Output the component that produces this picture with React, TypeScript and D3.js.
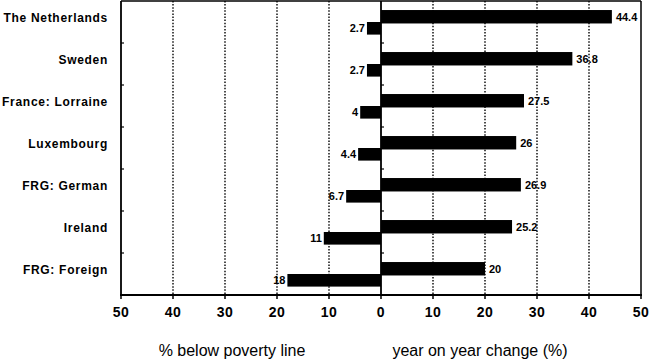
import React from "react";
import * as d3 from "d3";

const categories = ["The Netherlands", "Sweden", "France: Lorraine", "Luxembourg", "FRG: German", "Ireland", "FRG: Foreign"];
const yearChange = [44.4, 36.8, 27.5, 26, 26.9, 25.2, 20];
const belowPoverty = [2.7, 2.7, 4, 4.4, 6.7, 11, 18];
const tickValues = [-50, -40, -30, -20, -10, 0, 10, 20, 30, 40, 50];
const leftTitle = "% below poverty line";
const rightTitle = "year on year change (%)";

const W = 649, H = 359;
const FONT = "Liberation Sans, Arial, sans-serif";

export default function App() {
  const x = d3.scaleLinear().domain([-50, 50]).range([121, 641]);
  const y = d3.scaleBand<string>().domain(categories).range([1, 295]).padding(0);
  const bw = y.bandwidth();
  const top = 1, bottom = 295;
  const grid = tickValues.filter((t) => t !== 0 && Math.abs(t) !== 50);
  const bandEdges = categories.map((c) => y(c)!).slice(1);

  return (
    <svg width={W} height={H} style={{ position: "absolute", left: 0, top: 0, background: "#fff" }} fontFamily={FONT}>
      <rect x={0} y={0} width={W} height={H} fill="#fff" />
      {grid.map((t) => (
        <line key={t} x1={x(t)} x2={x(t)} y1={top} y2={bottom} stroke="#000" strokeWidth={1.4} strokeDasharray="1.5 1.6" />
      ))}
      {categories.map((c, i) => (
        <g key={c}>
          <rect x={x(0)} y={y(c)! + bw * 0.215} width={x(yearChange[i]) - x(0)} height={bw * 0.32} fill="#000" />
          <rect x={x(-belowPoverty[i])} y={y(c)! + bw * 0.5} width={x(0) - x(-belowPoverty[i])} height={bw * 0.3} fill="#000" />
          <text x={x(yearChange[i]) + 4} y={y(c)! + bw * 0.375} dy="0.35em" fontSize={11} fontWeight="bold" fill="#000">
            {String(yearChange[i])}
          </text>
          <text x={x(-belowPoverty[i]) - 2} y={y(c)! + bw * 0.65} dy="0.35em" fontSize={11} fontWeight="bold" textAnchor="end" fill="#000">
            {String(belowPoverty[i])}
          </text>
          <text x={108} y={y(c)! + bw * 0.4} dy="0.35em" fontSize={12} letterSpacing={0.7} fontWeight="bold" textAnchor="end" fill="#000">
            {c}
          </text>
        </g>
      ))}
      <line x1={x(-50)} x2={x(50)} y1={top} y2={top} stroke="#000" strokeWidth={1.5} />
      <line x1={x(50)} x2={x(50)} y1={top} y2={bottom} stroke="#000" strokeWidth={1.5} />
      <line x1={x(-50)} x2={x(-50)} y1={top} y2={bottom} stroke="#000" strokeWidth={1.8} />
      <line x1={x(0)} x2={x(0)} y1={top} y2={bottom} stroke="#000" strokeWidth={1.8} />
      <line x1={x(-50) - 1} x2={x(50) + 1} y1={bottom} y2={bottom} stroke="#000" strokeWidth={1.8} />
      {bandEdges.map((e, i) => (
        <g key={i}>
          <line x1={x(-50)} x2={x(-50) + 3} y1={e} y2={e} stroke="#000" strokeWidth={1.2} />
          <line x1={x(0)} x2={x(0) + 3} y1={e} y2={e} stroke="#000" strokeWidth={1.2} />
        </g>
      ))}
      {tickValues.map((t) => (
        <g key={t}>
          <line x1={x(t)} x2={x(t)} y1={bottom} y2={bottom + 4} stroke="#000" strokeWidth={1.5} />
          <text x={x(t)} y={312} dy="0.35em" textAnchor="middle" fontSize={14} letterSpacing={0.5} fontWeight="bold" fill="#000">
            {String(Math.abs(t))}
          </text>
        </g>
      ))}
      <text x={232} y={350} dy="0.35em" textAnchor="middle" fontSize={16} fill="#000">{leftTitle}</text>
      <text x={480} y={350} dy="0.35em" textAnchor="middle" fontSize={16} fill="#000">{rightTitle}</text>
    </svg>
  );
}
